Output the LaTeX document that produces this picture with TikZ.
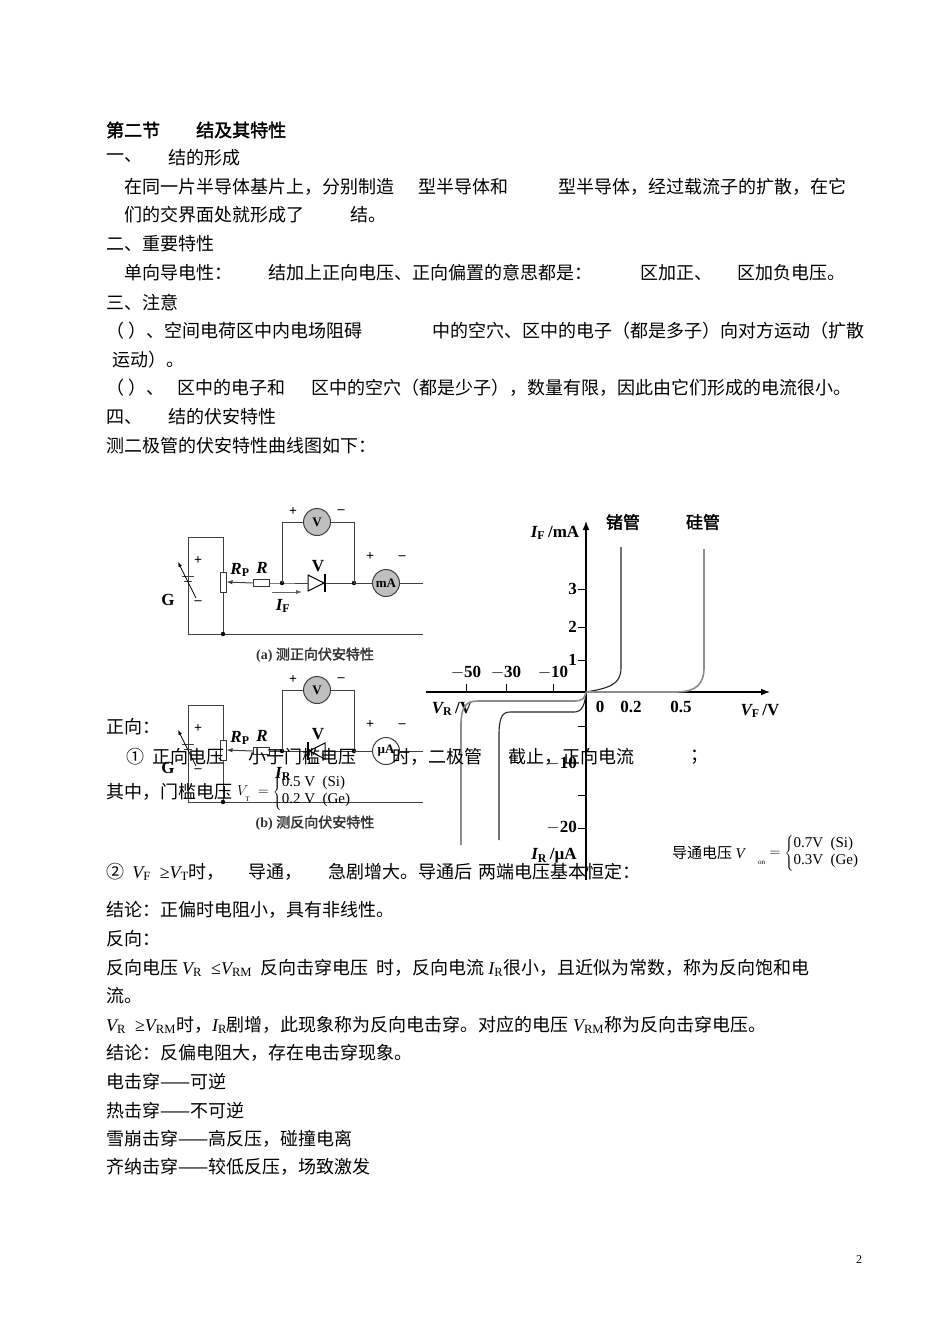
\documentclass[tikz,border=0pt]{standalone}
\usepackage{fontspec}
\setmainfont{Liberation Serif}
\newfontfamily\cjk{Noto Sans CJK SC}[AutoFakeBold=2]
\usetikzlibrary{arrows.meta}
\begin{document}
\begin{tikzpicture}[x=1pt,y=-1pt,
  tx/.style={anchor=west,inner sep=0pt,font=\fontsize{18}{21}\selectfont\cjk},
  lb/.style={inner sep=0pt,font=\fontsize{17}{19}\selectfont\bfseries},
  cl/.style={inner sep=0pt,font=\fontsize{14}{16}\selectfont\bfseries},
  wire/.style={line width=1pt,black!75},
  curve/.style={line width=1.6pt,black!45},
  meter/.style={circle,draw=black!75,line width=1pt,minimum size=27pt,inner sep=0pt,font=\fontsize{13}{14}\selectfont\bfseries}]
\useasboundingbox (0,0) rectangle (950,1344);
\fill[white] (0,0) rectangle (950,1344);
% ---------- circuits ----------
\foreach \dy/\cap/\mt/\fl/\rev in {0/{(a) {\cjk 测正向伏安特性}}/mA/black!25/0,168/{(b) {\cjk 测反向伏安特性}}/\textmu A/white/1}{
 \begin{scope}[yshift=-\dy pt]
  \coordinate (tl) at (188,537); \coordinate (tr) at (223,537);
  \coordinate (bl) at (188,634); \coordinate (br) at (423,634);
  \coordinate (pb) at (223,634);
  \draw[wire] (bl) -- (tl) -- (tr) -- (223,572);
  \draw[wire] (223,592) -- (pb); \draw[wire] (bl) -- (br);
  \fill (pb) circle (2.2pt);
  \node[draw=black!80,line width=1pt,minimum width=6pt,minimum height=20pt,inner sep=0pt] (pot) at (223,582) {};
  \draw[wire,fill=white] (182,576) -- (194,576); \draw[wire] (184,581) -- (192,581);
  \draw[line width=0.8pt,-{Latex[length=5pt]}] (196,598) -- (178,562);
  \node[cl] at (198,561) {+}; \node[cl] at (198,603) {--};
  \node[lb] at (168,600) {G};
  \coordinate (n1) at (282,583); \coordinate (n2) at (354,583);
  \node[draw=black!80,line width=1pt,minimum width=16pt,minimum height=7pt,inner sep=0pt] (res) at (261,583) {};
  \draw[wire,-{Latex[length=6pt]}] (res.west) -- (pot.east);
  \draw[wire] (res.east) -- (n1) -- (308,583); \draw[wire] (326,583) -- (n2);
  \ifnum\rev=0
   \draw[line width=1pt,fill=white] (308,575) -- (308,591) -- (324,583) -- cycle; \draw[line width=1.3pt] (325,574) -- (325,592);
  \else
   \draw[line width=1pt,fill=white] (325,575) -- (325,591) -- (309,583) -- cycle; \draw[line width=1.3pt] (308,574) -- (308,592);
  \fi
  \fill (n1) circle (2.2pt); \fill (n2) circle (2.2pt);
  \node[meter,fill=\fl] (am) at (386,583) {\mt};
  \draw[wire] (n2) -- (am.west); \draw[wire] (am.east) -- (423,583);
  \node[meter,fill=black!25] (vm) at (317,522) {V};
  \draw[wire] (n1) -- (282,522) -- (vm.west); \draw[wire] (vm.east) -- (354,522) -- (n2);
  \node[cl] at (293,512) {+}; \node[cl] at (341,512) {--};
  \node[cl] at (370,557) {+}; \node[cl] at (402,558) {--};
  \node[lb] at (318,566) {V};
  \node[lb] at (240,570) {\itshape R\textsubscript{\upshape P}};
  \node[lb] at (262,568) {\itshape R};
  \node[cl,text=black!80] at (315,655) {\cap};
 \end{scope}}
\draw[black!60,line width=0.8pt,-{Latex[length=6pt]}] (272,592) -- (302,592);
\node[lb] at (283,606) {\itshape I\textsubscript{\upshape F}};
\node[lb] at (283,774) {\itshape I\textsubscript{\upshape R}};
% ---------- graph ----------
\coordinate (O) at (586,692);
\draw[line width=1.1pt,-{Latex[length=9pt]}] (426,692) -- (770,692);
\draw[line width=1.1pt,-{Latex[length=9pt]}] (586,880) -- (586,521);
\foreach \y/\l in {589/3,627/2,660/1}{\draw[line width=1pt] (578,\y) -- (586,\y); \node[lb,anchor=east] at (577,\y) {\l};}
\foreach \y in {726,795}{\draw[line width=1pt] (578,\y) -- (586,\y);}
\draw[line width=1pt] (578,828) -- (586,828); \node[lb,anchor=east] at (577,828) {$-$20};
\node[lb,anchor=east] at (577,764) {$-$10};
\foreach \x/\l in {466/50,506/30,553/10}{\draw[line width=1pt] (\x,684) -- (\x,692); \node[lb] at (\x,673) {$-$\l};}
\node[lb] at (600,707) {0}; \node[lb] at (631,707) {0.2}; \node[lb] at (681,707) {0.5};
\node[lb] at (760,711) {\itshape V\textsubscript{\upshape F}\upshape\,/V};
\node[lb] at (452,709) {\itshape V\textsubscript{\upshape R}\upshape\,/V};
\node[lb] at (555,533) {\itshape I\textsubscript{\upshape F}\upshape\,/mA};
\node[lb] at (623,522) {\cjk 锗管}; \node[lb] at (703,522) {\cjk 硅管};
\node[lb] at (554,856) {\itshape I\textsubscript{\upshape R}\upshape\,/\textmu A};
\draw[line width=1.1pt,black!85] (O) .. controls (610,688) and (621,684) .. (621,668) -- (621,547);
\draw[curve] (O) -- (676,692) .. controls (696,692) and (704,684) .. (704,668) -- (704,549);
\draw[black!85,line width=1.1pt] (O) .. controls (585,705) and (582,712) .. (574,712) -- (510,712) .. controls (502,712) and (499,718) .. (499,735) -- (499,840);
\draw[curve] (O) .. controls (585,698) and (582,701) .. (575,701) -- (478,701) .. controls (465,701) and (461,708) .. (461,725) -- (461,845);
% ---------- text ----------
\node[tx,font=\fontsize{18}{21}\selectfont\cjk\bfseries] at (106,130) {第二节};
\node[tx,font=\fontsize{18}{21}\selectfont\cjk\bfseries] at (196,130) {结及其特性};
\node[tx] at (106,158) {一、}; \node[tx] at (168,158) {结的形成};
\node[tx] at (124,187) {在同一片半导体基片上，分别制造};
\node[tx] at (418,187) {型半导体和};
\node[tx] at (558,187) {型半导体，经过载流子的扩散，在它};
\node[tx] at (124,215) {们的交界面处就形成了}; \node[tx] at (350,215) {结。};
\node[tx] at (106,244) {二、重要特性};
\node[tx] at (124,273) {单向导电性：}; \node[tx] at (268,273) {结加上正向电压、正向偏置的意思都是：};
\node[tx] at (640,273) {区加正、}; \node[tx] at (737,273) {区加负电压。};
\node[tx] at (106,302) {三、注意};
\node[tx] at (106,331) {（ ）、空间电荷区中内电场阻碍}; \node[tx] at (432,331) {中的空穴、};
\node[tx] at (522,331) {区中的电子（都是多子）向对方运动（扩散};
\node[tx] at (112,360) {运动）。};
\node[tx] at (106,388) {（ ）、}; \node[tx] at (177,388) {区中的电子和};
\node[tx] at (311,388) {区中的空穴（都是少子），数量有限，因此由它们形成的电流很小。};
\node[tx] at (106,417) {四、}; \node[tx] at (168,417) {结的伏安特性};
\node[tx] at (106,446) {测二极管的伏安特性曲线图如下：};
\node[tx] at (106,727) {正向：};
\node[tx] at (126,757) {①\ \ 正向电压}; \node[tx] at (248,757) {小于门槛电压};
\node[tx] at (392,757) {时，二极管}; \node[tx] at (508,757) {截止，正向电流};
\node[tx] at (690,757) {；};
\node[tx] at (106,792) {其中，门槛电压};
\node[tx,font=\fontsize{15}{17}\selectfont] (vt) at (237,792) {$V_{\raisebox{-4pt}{\scriptsize T}}\ =\left\{\begin{array}{@{}l}\mbox{0.5 V\ \ (Si)}\\ \mbox{0.2 V\ \ (Ge)}\end{array}\right.$};
\node[tx] at (106,872) {②\ \ \rmfamily\itshape V\textsubscript{\upshape F}\ \ \upshape≥\itshape V\textsubscript{\upshape T}\cjk\upshape 时，};
\node[tx] at (248,872) {导通，}; \node[tx] at (328,872) {急剧增大。导通后};
\node[tx] at (478,872) {两端电压基本恒定：};
\node[tx,font=\fontsize{15}{16}\selectfont\cjk] at (672,853) {导通电压 \rmfamily\itshape V};
\node[tx,font=\fontsize{15}{17}\selectfont] at (758,853) {$_{\raisebox{-6pt}{\scriptsize on}}=\left\{\begin{array}{@{}l}\mbox{0.7V\ \ (Si)}\\ \mbox{0.3V\ \ (Ge)}\end{array}\right.$};
\node[tx] at (106,910) {结论：正偏时电阻小，具有非线性。};
\node[tx] at (106,939) {反向：};
\node[tx] at (106,968) {反向电压 {\rmfamily\itshape V\textsubscript{\upshape R}\ \ \upshape≤\itshape V\textsubscript{\upshape RM}}\ \ 反向击穿电压\ \ 时，反向电流 {\rmfamily\itshape I\textsubscript{\upshape R}}很小，且近似为常数，称为反向饱和电};
\node[tx] at (106,996) {流。};
\node[tx] at (106,1025) {{\rmfamily\itshape V\textsubscript{\upshape R}\ \ \upshape≥\itshape V\textsubscript{\upshape RM}}时，{\rmfamily\itshape I\textsubscript{\upshape R}}剧增，此现象称为反向电击穿。对应的电压 {\rmfamily\itshape V\textsubscript{\upshape RM}}称为反向击穿电压。};
\node[tx] at (106,1053) {结论：反偏电阻大，存在电击穿现象。};
\node[tx] at (106,1082) {电击穿——可逆};
\node[tx] at (106,1111) {热击穿——不可逆};
\node[tx] at (106,1139) {雪崩击穿——高反压，碰撞电离};
\node[tx] at (106,1167) {齐纳击穿——较低反压，场致激发};
\node[inner sep=0pt,font=\fontsize{12}{14}\selectfont] at (859,1260) {2};
\end{tikzpicture}
\end{document}
